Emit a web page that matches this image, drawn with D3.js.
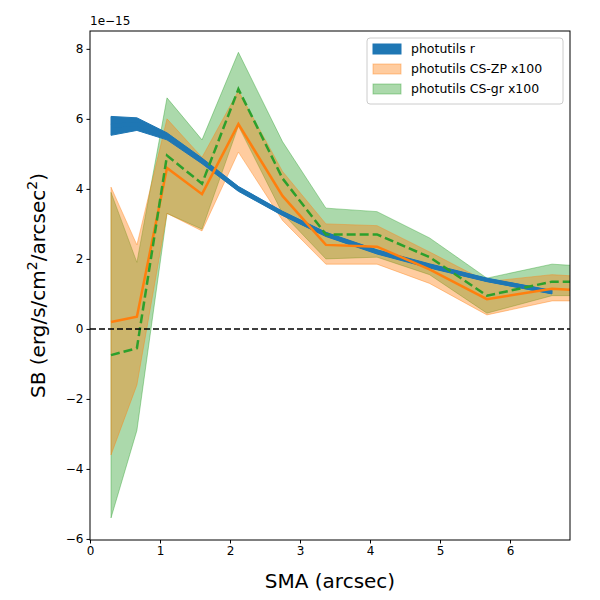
<!DOCTYPE html>
<html><head><meta charset="utf-8">
<script src="https://cdn.jsdelivr.net/npm/d3@7"></script>
<style>body{margin:0;background:#fff}text{font-family:"DejaVu Sans",sans-serif}</style>
</head><body><svg id="c" width="600" height="600"></svg>
<script>
const sma = [0.3, 0.67, 1.1, 1.6, 2.12, 2.75, 3.37, 4.1, 4.85, 5.67, 6.6, 7.0];
const rMid = [5.8, 5.85, 5.5, 4.8, 4.0, 3.3, 2.7, 2.2, 1.8, 1.4, 1.05];
const rHalf = [0.27, 0.18, 0.1, 0.08, 0.07, 0.06, 0.06, 0.06, 0.06, 0.05, 0.05];
const zpMid = [0.2, 0.35, 4.6, 3.85, 5.85, 3.8, 2.4, 2.35, 1.7, 0.85, 1.15, 1.1];
const zpHi = [4.05, 2.4, 6.0, 4.9, 6.8, 4.5, 3.0, 2.95, 2.2, 1.35, 1.55, 1.5];
const zpLo = [-3.6, -1.6, 3.3, 2.8, 5.05, 3.1, 1.85, 1.85, 1.3, 0.4, 0.8, 0.8];
const grMid = [-0.75, -0.55, 4.95, 4.15, 6.85, 4.3, 2.7, 2.7, 2.05, 0.95, 1.35, 1.35];
const grHi = [3.9, 1.9, 6.6, 5.4, 7.9, 5.35, 3.45, 3.35, 2.6, 1.45, 1.85, 1.8];
const grLo = [-5.4, -2.9, 3.3, 2.85, 5.8, 3.3, 2.0, 2.05, 1.55, 0.45, 0.95, 0.95];
const xTicks = [0, 1, 2, 3, 4, 5, 6];
const yTicks = [-6, -4, -2, 0, 2, 4, 6, 8];
const legendLabels = ["photutils r", "photutils CS-ZP x100", "photutils CS-gr x100"];

const L = 90, R = 570, T = 31, B = 540;
const svg = d3.select("#c");
const x = d3.scaleLinear().domain([0, 6.857]).range([L, R]);
const y = d3.scaleLinear().domain([-6.03, 8.51]).range([B, T]);

svg.append("clipPath").attr("id", "clip").append("rect")
    .attr("x", L).attr("y", T).attr("width", R - L).attr("height", B - T);
const g = svg.append("g").attr("clip-path", "url(#clip)");

const band = (lo, hi) => d3.area().x((d, i) => x(sma[i])).y0((d, i) => y(lo[i])).y1((d, i) => y(hi[i]))(hi);
const line = v => d3.line().x((d, i) => x(sma[i])).y(d => y(d))(v);

g.append("path").attr("d", band(grLo, grHi)).attr("fill", "#2ca02c").attr("fill-opacity", 0.4).attr("stroke", "#2ca02c").attr("stroke-opacity", 0.4);
g.append("path").attr("d", band(zpLo, zpHi)).attr("fill", "#ff7f0e").attr("fill-opacity", 0.4).attr("stroke", "#ff7f0e").attr("stroke-opacity", 0.4);
const rLo = rMid.map((v, i) => v - rHalf[i]), rHi = rMid.map((v, i) => v + rHalf[i]);
g.append("path").attr("d", d3.area().x((d, i) => x(sma[i])).y0((d, i) => y(rLo[i])).y1((d, i) => y(rHi[i]))(rMid)).attr("fill", "#1f77b4").attr("stroke", "#1f77b4").attr("stroke-width", 1);
g.append("path").attr("d", line(rMid)).attr("fill", "none").attr("stroke", "#1f77b4").attr("stroke-width", 4);
g.append("path").attr("d", line(zpMid)).attr("fill", "none").attr("stroke", "#ff7f0e").attr("stroke-width", 2.5);
g.append("path").attr("d", line(grMid)).attr("fill", "none").attr("stroke", "#2ca02c").attr("stroke-width", 2.5).attr("stroke-dasharray", "9,4");
g.append("line").attr("x1", L).attr("x2", R).attr("y1", y(0)).attr("y2", y(0)).attr("stroke", "#000").attr("stroke-width", 1.5).attr("stroke-dasharray", "6,3");

svg.append("rect").attr("x", L).attr("y", T).attr("width", R - L).attr("height", B - T).attr("fill", "none").attr("stroke", "#000");
const xa = svg.append("g").attr("transform", `translate(0,${B})`).call(d3.axisBottom(x).tickValues(xTicks).tickSize(3.5).tickFormat(d3.format("d")));
const ya = svg.append("g").attr("transform", `translate(${L},0)`).call(d3.axisLeft(y).tickValues(yTicks).tickSize(3.5).tickFormat(d => d < 0 ? "\u2212" + (-d) : d));
[xa, ya].forEach(a => { a.select(".domain").remove(); a.selectAll("text").attr("font-size", 12).attr("fill", "#000"); });

svg.append("text").attr("x", L).attr("y", 25).attr("font-size", 12).text("1e\u221215");
svg.append("text").attr("x", (L + R) / 2).attr("y", 588).attr("text-anchor", "middle").attr("font-size", 20).text("SMA (arcsec)");
const yl = svg.append("text").attr("transform", `translate(45,${(T + B) / 2}) rotate(-90)`).attr("text-anchor", "middle").attr("font-size", 20);
yl.append("tspan").text("SB (erg/s/cm");
yl.append("tspan").attr("dy", -8).attr("font-size", 14).text("2");
yl.append("tspan").attr("dy", 8).text("/arcsec");
yl.append("tspan").attr("dy", -8).attr("font-size", 14).text("2");
yl.append("tspan").attr("dy", 8).text(")");

const lg = svg.append("g").attr("transform", "translate(367,38)");
lg.append("rect").attr("width", 196).attr("height", 66).attr("rx", 3).attr("fill", "#fff").attr("fill-opacity", 0.8).attr("stroke", "#ccc");
const lc = [["#1f77b4", 1], ["#ff7f0e", 0.4], ["#2ca02c", 0.4]];
legendLabels.forEach((t, i) => {
    lg.append("rect").attr("x", 6).attr("y", 6 + i * 20).attr("width", 28).attr("height", 10)
        .attr("fill", lc[i][0]).attr("fill-opacity", lc[i][1]).attr("stroke", lc[i][0]).attr("stroke-opacity", lc[i][1]);
    lg.append("text").attr("x", 44).attr("y", 15 + i * 20).attr("font-size", 12.5).text(t);
});
</script></body></html>
